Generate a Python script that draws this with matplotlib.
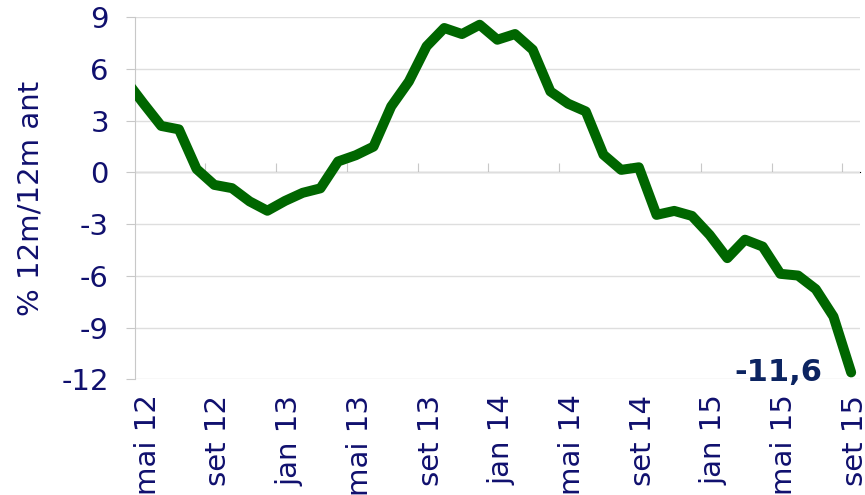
import matplotlib.pyplot as plt
import matplotlib.transforms as mtransforms
import numpy as np

# Variação % 12m/12m anterior, mensal (abr 12 fica cortado à esquerda)
meses = ['abr 12', 'mai 12', 'jun 12', 'jul 12', 'ago 12', 'set 12', 'out 12', 'nov 12', 'dez 12',
         'jan 13', 'fev 13', 'mar 13', 'abr 13', 'mai 13', 'jun 13', 'jul 13', 'ago 13',
         'set 13', 'out 13', 'nov 13', 'dez 13', 'jan 14', 'fev 14', 'mar 14', 'abr 14',
         'mai 14', 'jun 14', 'jul 14', 'ago 14', 'set 14', 'out 14', 'nov 14', 'dez 14',
         'jan 15', 'fev 15', 'mar 15', 'abr 15', 'mai 15', 'jun 15', 'jul 15', 'ago 15', 'set 15']
valores = [5.35, 4.0, 2.7, 2.5, 0.2, -0.72, -0.91, -1.68, -2.22,
           -1.65, -1.18, -0.92, 0.64, 1.0, 1.5, 3.83, 5.28,
           7.32, 8.38, 8.03, 8.57, 7.70, 8.03, 7.12, 4.70,
           3.99, 3.54, 1.03, 0.15, 0.3, -2.46, -2.23, -2.52,
           -3.62, -4.97, -3.9, -4.3, -5.88, -5.98, -6.77, -8.36, -11.6]
rotulos_x = ['mai 12', 'set 12', 'jan 13', 'mai 13', 'set 13', 'jan 14',
             'mai 14', 'set 14', 'jan 15', 'mai 15', 'set 15']
ticks_y = [9, 6, 3, 0, -3, -6, -9, -12]
ultimo_rotulo = '-11,6'

plt.rcParams['font.family'] = ['DejaVu Sans']
azul = '#10106e'
verde = '#006600'

x = np.arange(len(meses)) - 1  # mai 12 = 0

fig = plt.figure(figsize=(8.65, 4.95), dpi=100)
ax = fig.add_axes([0.1557, 0.2337, 0.9942 - 0.1557, 0.965 - 0.2337])

ax.plot(x, valores, color=verde, linewidth=7.2, solid_joinstyle='round',
        solid_capstyle='round', zorder=3)

ax.set_xlim(-0.5, len(meses) - 1.5)
ax.set_ylim(-12, 9)

# eixo y
ax.set_yticks(ticks_y)
ax.set_yticklabels([str(v) for v in ticks_y], fontsize=21, color=azul)
ax.tick_params(axis='y', length=6.5, color='#c8c8c8', pad=12)
ax.grid(axis='y', color='#dedede', linewidth=1)
ax.set_ylabel('% 12m/12m ant', fontsize=21, color=azul, labelpad=12)

# eixo x: rótulos embaixo
pos_rot = [meses.index(m) - 1 for m in rotulos_x]
ax.set_xticks(pos_rot)
ax.set_xticklabels(rotulos_x, rotation=90, fontsize=21, color=azul)
ax.tick_params(axis='x', length=0, pad=11)
desloc = mtransforms.ScaledTranslation(4 / 100, 0, fig.dpi_scale_trans)
for lbl in ax.get_xticklabels():
    lbl.set_transform(lbl.get_transform() + desloc)

for lado in ['top', 'right', 'bottom']:
    ax.spines[lado].set_visible(False)
ax.spines['left'].set_color('#c8c8c8')

# linha do zero com marcas entre categorias
sec = ax.secondary_xaxis(12 / 21)
sec.set_xticks([p - 0.5 for p in pos_rot[1:]])
sec.tick_params(axis='x', length=6.5, color='#c8c8c8', labelbottom=False, labeltop=False,
                direction='out')
sec.spines['bottom'].set_color('#c8c8c8')
sec.spines['bottom'].set_linewidth(1)

ax.annotate(ultimo_rotulo, xy=(x[-1], valores[-1]), xytext=(-21, 0),
            textcoords='offset points', ha='right', va='center',
            fontsize=22, fontweight='bold', color='#0c2461')

fig.savefig('out.png', dpi=100)
